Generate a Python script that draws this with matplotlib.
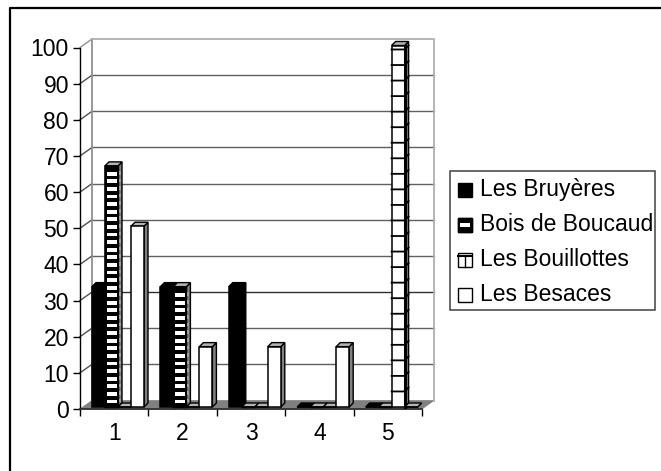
import matplotlib
matplotlib.use("Agg")
import matplotlib.pyplot as plt
from matplotlib.patches import Rectangle, Polygon
import numpy as np

categories = [1, 2, 3, 4, 5]
y_ticks = list(range(0, 101, 10))
names = ["Les Bruyères", "Bois de Boucaud", "Les Bouillottes", "Les Besaces"]
bruyeres = [33.3, 33.3, 33.3, 0, 0]
boucaud = [66.7, 33.3, 0, 0, 0]
bouillottes = [0, 0, 0, 0, 100]
besaces = [50, 16.7, 16.7, 16.7, 0]

W, H = 661, 471
plt.rcParams["font.family"] = ["Liberation Sans", "DejaVu Sans"]

fig = plt.figure(figsize=(W / 100, H / 100), dpi=100)

# front plane of the fake 3d box, in pixels
LEFT, RIGHT, BASE, TOP = 80, 422, 409, 47.5
ax = fig.add_axes([LEFT / W, 1 - BASE / H, (RIGHT - LEFT) / W, (BASE - TOP) / H])
ax.set_xlim(0.5, 5.5)
ax.set_ylim(0, 100)
ax.patch.set_visible(False)
for s in ax.spines.values():
    s.set_visible(False)

px = 5 / (RIGHT - LEFT)      # one pixel in x data
py = 100 / (BASE - TOP)      # one pixel in y data
dx, dy = 12 * px, 8.5 * py   # depth of the box
bw = 13 * px
bar_dx, bar_dy = 4 * px, 4 * py   # depth of a bar
GRID = "#808080"


def poly(pts, **kw):
    ax.add_patch(Polygon(pts, closed=True, clip_on=False, **kw))


# walls and floor
ax.plot([0.5 + dx, 0.5 + dx], [dy, 100 + dy], color="#909090", lw=1.3, clip_on=False)
ax.plot([0.5, 0.5 + dx], [100, 100 + dy], color="#909090", lw=1, clip_on=False)
ax.plot([0.5 + dx, 5.5 + dx, 5.5 + dx], [100 + dy, 100 + dy, dy], color="#b0b0b0", lw=1.3, clip_on=False)
poly([(0.5, 0), (0.5 + dx, dy), (5.5 + dx, dy), (5.5, 0)], fc=GRID, ec=GRID, lw=0.5)
for t in y_ticks[1:-1]:
    col = "#303030" if t % 30 == 0 and t < 40 else "#606060"
    ax.plot([0.5, 0.5 + dx], [t, t + dy], color="#505050", lw=1, clip_on=False, zorder=1.5)
    ax.plot([0.5 + dx, 5.5 + dx], [t + dy, t + dy], color=col, lw=1, clip_on=False, zorder=1.5)

# axes
ax.plot([0.5, 0.5], [0, 100], color="black", lw=1, clip_on=False, zorder=2)
ax.plot([0.5, 5.5], [0, 0], color="#303030", lw=1.3, clip_on=False, zorder=2)
ax.set_xticks(np.arange(0.5, 5.6, 1))
ax.set_xticklabels([])
ax.set_yticks(y_ticks)
ax.tick_params(axis="y", length=5, width=1, labelsize=16.5, pad=3)
ax.tick_params(axis="x", length=5, width=1, direction="out")
for c in categories:
    ax.text(c, -6.7, str(c), ha="center", va="center", fontsize=16.5)


def draw_bar(x, v, kind):
    y0 = 2 * py
    top = y0 + v
    z = 3
    side = "#808080" if kind != "solid" else "black"
    lc = "black"
    poly([(x + bw, y0), (x + bw + bar_dx, y0 + bar_dy), (x + bw + bar_dx, top + bar_dy), (x + bw, top)],
         fc=side, ec=lc, lw=1, zorder=z)
    poly([(x, top), (x + bar_dx, top + bar_dy), (x + bw + bar_dx, top + bar_dy), (x + bw, top)],
         fc="#b4b4b4" if kind != "solid" else "black", ec=lc, lw=1, zorder=z)
    face = "black" if kind == "solid" else "white"
    ax.add_patch(Rectangle((x, y0), bw, v, fc=face, ec="black", lw=1.1, zorder=z + 0.1, clip_on=False))
    if kind == "stripes":
        # thick black bands with white slots
        ax.add_patch(Rectangle((x, y0), bw, v, fc="black", ec="black", lw=1, zorder=z + 0.2, clip_on=False))
        for b in np.arange(y0 + 1.0, top - 1.0, 2.1):
            ax.add_patch(Rectangle((x + 1.5 * px, b), bw - 3 * px, 1.05, fc="white", ec="none", zorder=z + 0.3, clip_on=False))
            ax.add_patch(Rectangle((x + bw + 0.5 * px, b + 0.3), bar_dx * 0.6, 1.0, fc="#a0a0a0", ec="none", zorder=z + 0.3, clip_on=False))
    if kind == "ladder" and v > 0:
        ax.plot([x + bw, x + bw], [y0, top], color="black", lw=2.2, zorder=z + 0.3, clip_on=False)
        for b in np.arange(y0 + 4.3, top, 4.3):
            ax.plot([x, x + bw, x + bw + bar_dx], [b, b, b + bar_dy], color="black", lw=1.3, zorder=z + 0.3, clip_on=False)


series = [(bruyeres, "solid"), (boucaud, "stripes"), (bouillottes, "ladder"), (besaces, "plain")]
for c_i, c in enumerate(categories):
    for s_i, (vals, kind) in enumerate(series):
        x = c - 0.5 + 12 * px + s_i * bw
        draw_bar(x, vals[c_i], kind)

# outer frame: only the top and left edges are in the picture
fig.add_artist(plt.Line2D([10 / W, 10 / W, 1], [0, 1 - 8 / H, 1 - 8 / H], transform=fig.transFigure,
                          color="black", lw=1.6))

# legend
lg = fig.add_axes([456 / W, 1 - 310 / H, 200 / W, 141 / H])
lg.set_xlim(456, 656)
lg.set_ylim(310, 169)
lg.axis("off")
lg.add_patch(Rectangle((450, 171), 205, 139, fc="white", ec="#404040", lw=1.1, clip_on=False))
for i, name in enumerate(names):
    yc = 189.5 + i * 35
    lg.text(480, yc, name, va="center", ha="left", fontsize=16.5)
    kind = series[i][1]
    fc = "black" if kind == "solid" else "white"
    lg.add_patch(Rectangle((458, yc - 6.5), 14, 14, fc=fc, ec="black", lw=1))
    if kind == "stripes":
        lg.add_patch(Rectangle((458, yc - 6.5), 14, 14, fc="black", ec="black", lw=1))
        lg.add_patch(Rectangle((460, yc - 1.5), 10, 4, fc="white", ec="none"))
    if kind == "ladder":
        lg.plot([458, 472], [yc - 3, yc - 3], color="black", lw=1.5)
        lg.plot([465, 465], [yc - 3, yc + 7.5], color="black", lw=1)

fig.savefig("out.png", dpi=100)
